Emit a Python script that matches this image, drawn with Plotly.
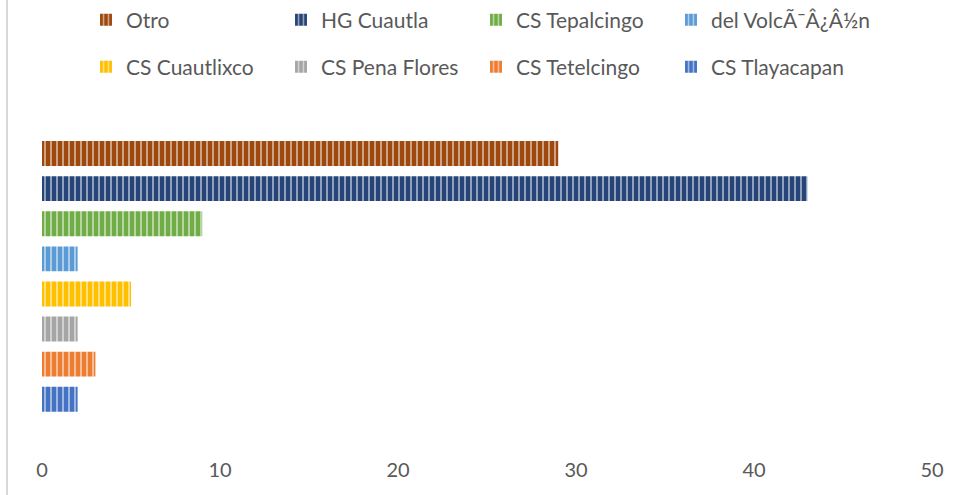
import plotly.graph_objects as go

# Data (bottom to top as drawn)
series = ["CS Tlayacapan", "CS Tetelcingo", "CS Pena Flores", "CS Cuautlixco",
          "del VolcÃ¯Â¿Â½n", "CS Tepalcingo", "HG Cuautla", "Otro"]
values = [2, 3, 2, 5, 2, 9, 43, 29]
colors = ["#4472C4", "#ED7D31", "#A5A5A5", "#FFC000",
          "#5B9BD5", "#70AD47", "#264478", "#9E480E"]
x_ticks = [0, 10, 20, 30, 40, 50]

# legend placement: which legend box, order inside the box
legend_row = {"Otro": ("legend", 1), "HG Cuautla": ("legend", 2), "CS Tepalcingo": ("legend", 3),
              "del VolcÃ¯Â¿Â½n": ("legend3", 1), "CS Cuautlixco": ("legend2", 1),
              "CS Pena Flores": ("legend2", 2), "CS Tetelcingo": ("legend2", 3),
              "CS Tlayacapan": ("legend2", 4)}


def tint(hex_color, f=0.55):
    r, g, b = (int(hex_color[i:i + 2], 16) for i in (1, 3, 5))
    r, g, b = (round(c + (255 - c) * f) for c in (r, g, b))
    return f"#{r:02x}{g:02x}{b:02x}"


fig = go.Figure()
for name, val, col in zip(series, values, colors):
    lg, rank = legend_row[name]
    fig.add_trace(go.Bar(
        x=[val], y=[name], orientation="h", name=name,
        width=0.71,
        marker=dict(color=col, line=dict(width=0),
                    pattern=dict(shape="|", size=6, solidity=0.3,
                                 bgcolor=col, fgcolor=tint(col), fillmode="replace")),
        legend=lg, legendrank=rank, hoverinfo="x+name",
    ))

font = "Lato, 'Open Sans', sans-serif"
W, H = 962, 495
ml, mr, mt, mb = 42, 30, 136, 39
pw, ph = W - ml - mr, H - mt - mb


def px_x(p):
    return (p - ml) / pw


def px_y(p):
    return (H - mb - p) / ph


leg_common = dict(orientation="h", xanchor="left", yanchor="middle",
                  font=dict(size=21, color="#595959"), bgcolor="rgba(0,0,0,0)")

fig.update_layout(
    width=W, height=H,
    margin=dict(l=ml, r=mr, t=mt, b=mb, autoexpand=False),
    paper_bgcolor="white", plot_bgcolor="white",
    font=dict(family=font, color="#595959", size=20),
    barmode="overlay",
    xaxis=dict(range=[0, 50], tickvals=x_ticks, showgrid=False, zeroline=False,
               showline=False, ticks="", tickfont=dict(size=20, color="#595959")),
    yaxis=dict(type="category", categoryorder="array", categoryarray=series,
               range=[-1.617, 7.5], showticklabels=False, showgrid=False,
               zeroline=False, showline=False, ticks=""),
    legend=dict(x=px_x(86), y=px_y(20), entrywidth=150, entrywidthmode="pixels", **leg_common),
    legend2=dict(x=px_x(86), y=px_y(67), entrywidth=150, entrywidthmode="pixels", **leg_common),
    legend3=dict(x=px_x(671), y=px_y(20), **leg_common),
    shapes=[dict(type="line", xref="paper", yref="paper",
                 x0=px_x(7), x1=px_x(7), y0=px_y(495), y1=px_y(0),
                 line=dict(color="#D9D9D9", width=2))],
    showlegend=True,
)

fig.write_html("out.html", config={"displayModeBar": False},
               post_script="document.body.style.margin='0';")
